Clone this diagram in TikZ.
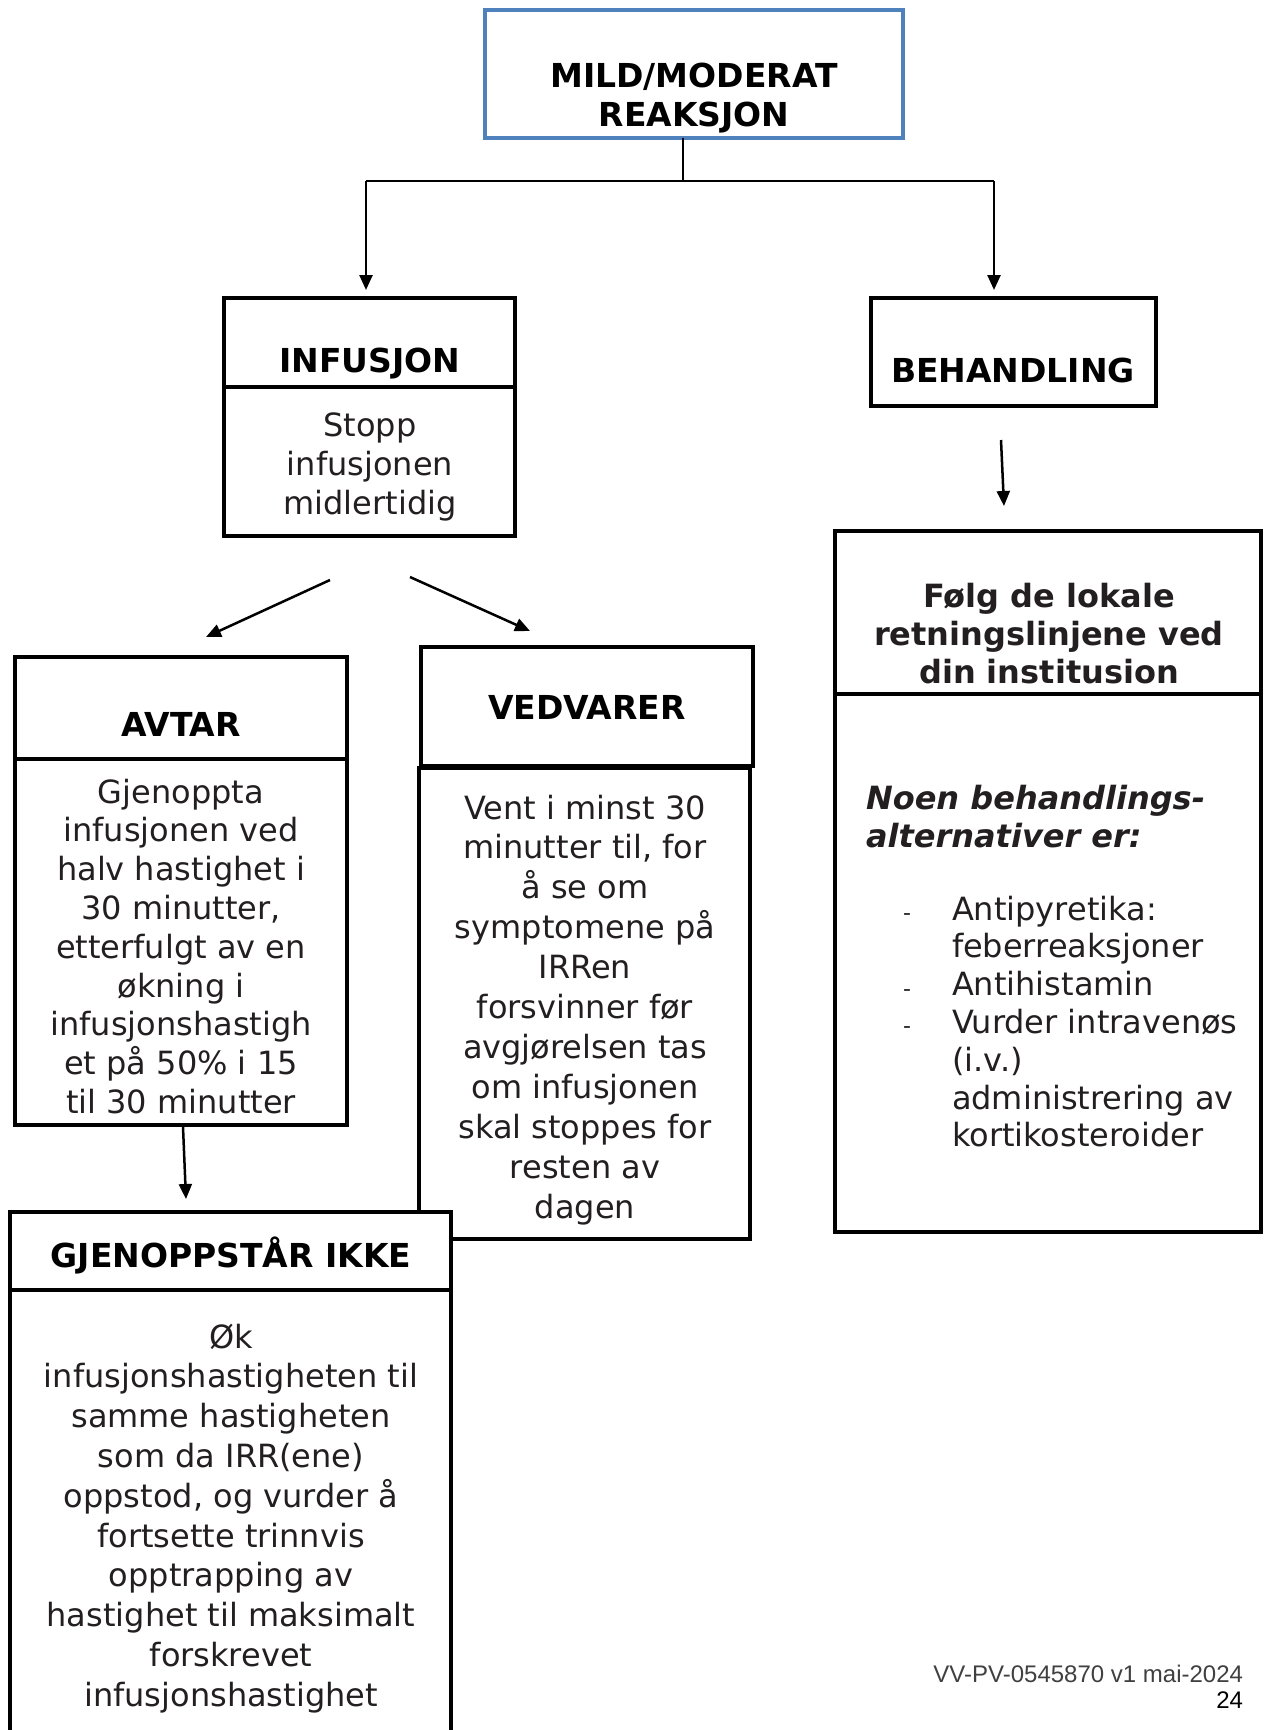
\documentclass[tikz,border=0pt]{standalone}
\usepackage{fontspec}
\setmainfont{DejaVu Sans}
\newfontfamily\footfont{Liberation Sans}
\usetikzlibrary{arrows.meta}
\definecolor{txt}{HTML}{231F20}
\definecolor{blu}{HTML}{4F81BD}
\definecolor{footgray}{HTML}{404040}
\newcommand\bodyf[1]{\fontsize{32}{#1}\selectfont\color{txt}}
\newcommand\ttlf[1]{\fontsize{33}{#1}\selectfont\bfseries}
\newcommand\blk[2]{\parbox[t]{#1}{\centering #2\par}}
\newcommand\lblk[2]{\parbox[t]{#1}{\raggedright #2\par}}
\begin{document}
\begin{tikzpicture}[x=1pt,y=-1pt,
  box/.style={draw=black, line width=4pt, fill=white, inner sep=0pt, outer sep=0pt, anchor=north west},
  div/.style={draw=black, line width=4pt},
  conn/.style={draw=black, line width=2.5pt},
  arr/.style={conn, -{Triangle[length=15pt,width=13pt]}},
  txtnode/.style={inner sep=0pt, outer sep=0pt, anchor=base}]
\useasboundingbox[fill=white] (0,0) rectangle (1264,1730);

% boxes
\node[box, draw=blu, minimum width=418pt, minimum height=128pt] (mild) at (485,10) {};
\node[box, minimum width=291pt, minimum height=238pt] (inf) at (224,298) {};
\draw[div] (224,387) -- (515,387);
\node[box, minimum width=285pt, minimum height=108pt] (beh) at (871,298) {};
\node[box, minimum width=332pt, minimum height=468pt] (avt) at (15,657) {};
\draw[div] (15,759) -- (347,759);
\node[box, minimum width=332pt, minimum height=119pt] (vedT) at (421,647) {};
\node[box, minimum width=331pt, minimum height=471pt] (vedB) at (419,768) {};
\node[box, minimum width=441pt, minimum height=540pt] (gje) at (10,1212) {};
\draw[div] (10,1290) -- (451,1290);
\node[box, minimum width=426pt, minimum height=701pt] (rbox) at (835,531) {};
\draw[div] (835,694) -- (1261,694);

% connectors
\coordinate (jL) at (366,181);
\coordinate (jR) at (994,181);
\coordinate (jM) at (683,181);
\draw[conn] (jM |- mild.south) -- (jM);
\draw[conn] (jL) -- (jR);
\draw[arr, shorten >=8pt] (jL) -- (jL |- inf.north);
\draw[arr, shorten >=8pt] (jR) -- (jR |- beh.north);
\coordinate (a1s) at (330,580); \coordinate (a1e) at (206,637);
\coordinate (a2s) at (410,577); \coordinate (a2e) at (530,631);
\coordinate (a3s) at (1001,440); \coordinate (a3e) at (1004,506);
\coordinate (a4s) at (183,1127); \coordinate (a4e) at (186,1199);
\draw[arr] (a1s) -- (a1e);
\draw[arr] (a2s) -- (a2e);
\draw[arr] (a3s) -- (a3e);
\draw[arr] (a4s) -- (a4e);

% texts
\node[txtnode] (tmild) at (694,87) {\ttlf{39}\blk{420pt}{MILD/MODERAT\\REAKSJON}};
\node[txtnode] (tinf) at (370,372) {\ttlf{39}INFUSJON};
\node[txtnode] (binf) at (370,436) {\bodyf{39}\blk{290pt}{Stopp\\infusjonen\\midlertidig}};
\node[txtnode] (tbeh) at (1013,382) {\ttlf{39}BEHANDLING};
\node[txtnode] (tavt) at (181,736) {\ttlf{39}AVTAR};
\node[txtnode] (bavt) at (181,803) {\bodyf{38.8}\blk{330pt}{Gjenoppta\\infusjonen ved\\halv hastighet i\\30 minutter,\\etterfulgt av en\\økning i\\infusjonshastigh\\et på 50\% i 15\\til 30 minutter}};
\node[txtnode] (tved) at (587,719) {\ttlf{39}VEDVARER};
\node[txtnode] (bved) at (585,819) {\bodyf{39.9}\blk{330pt}{Vent i minst 30\\minutter til, for\\å se om\\symptomene på\\IRRen\\forsvinner før\\avgjørelsen tas\\om infusjonen\\skal stoppes for\\resten av\\dagen}};
\node[txtnode] (tgje) at (231,1267) {\ttlf{39}GJENOPPSTÅR IKKE};
\node[txtnode] (bgje) at (231,1348) {\bodyf{39.8}\blk{440pt}{Øk\\infusjonshastigheten til\\samme hastigheten\\som da IRR(ene)\\oppstod, og vurder å\\fortsette trinnvis\\opptrapping av\\hastighet til maksimalt\\forskrevet\\infusjonshastighet}};
\node[txtnode] (trbox) at (1049,607) {\fontsize{32}{38}\selectfont\bfseries\color{txt}\blk{420pt}{Følg de lokale\\retningslinjene ved\\din institusion}};
\node[txtnode, anchor=base west] (noen) at (866,809) {\fontsize{32}{38}\selectfont\bfseries\itshape\color{txt}\lblk{390pt}{Noen behandlings-\\alternativer er:}};
\node[txtnode, anchor=base west] (list) at (952,920) {\bodyf{37.8}\lblk{310pt}{Antipyretika:\\feberreaksjoner\\Antihistamin\\Vurder intravenøs\\(i.v.)\\administrering av\\kortikosteroider}};
\node[txtnode, anchor=base west] (d1) at (903,920) {\fontsize{22}{26}\selectfont\color{txt}-};
\node[txtnode, anchor=base west] (d2) at (903,996) {\fontsize{22}{26}\selectfont\color{txt}-};
\node[txtnode, anchor=base west] (d3) at (903,1033) {\fontsize{22}{26}\selectfont\color{txt}-};
\node[txtnode, anchor=base east] (f1) at (1243,1682) {\footfont\fontsize{24}{26}\selectfont\color{footgray}VV-PV-0545870 v1 mai-2024};
\node[txtnode, anchor=base east] (f2) at (1243,1708) {\footfont\fontsize{24}{26}\selectfont 24};
\end{tikzpicture}
\end{document}
